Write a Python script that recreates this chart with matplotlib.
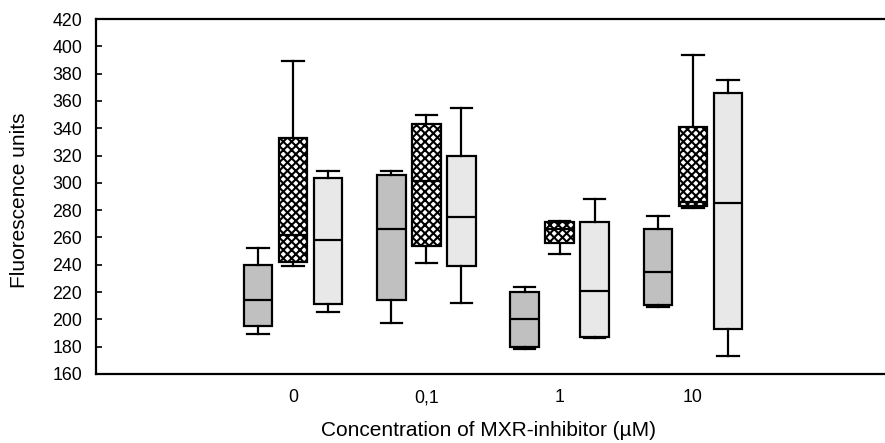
import matplotlib
matplotlib.use("Agg")
import matplotlib.pyplot as plt

plt.rcParams['font.family'] = ['Liberation Sans', 'DejaVu Sans']
plt.rcParams['hatch.linewidth'] = 1.5

# ---- data ----
groups = ["0", "0,1", "1", "10"]

a_whislo = [189, 197, 178, 209]
a_q1 = [195, 214, 180, 210.5]
a_med = [214, 266, 200, 234.5]
a_q3 = [240, 306, 220, 266]
a_whishi = [252, 309, 224, 276]

b_whislo = [239, 241, 248, 281.5]
b_q1 = [242, 254, 256, 283]
b_med = [262, 301, 266, 286]
b_q3 = [333, 343, 271, 341]
b_whishi = [389, 350, 272, 393.5]

c_whislo = [205, 212, 186, 173]
c_q1 = [211, 239, 187, 193]
c_med = [258, 275, 221, 285.5]
c_q3 = [303.5, 320, 271, 366]
c_whishi = [309, 355, 288, 375]

yticks = list(range(160, 421, 20))

series = [
    (a_whislo, a_q1, a_med, a_q3, a_whishi),
    (b_whislo, b_q1, b_med, b_q3, b_whishi),
    (c_whislo, c_q1, c_med, c_q3, c_whishi),
]
offsets = [-0.263, 0.0, 0.263]
styles = [
    dict(facecolor='#c0c0c0', hatch=None),
    dict(facecolor='white', hatch='xxxx'),
    dict(facecolor='#e8e8e8', hatch=None),
]

fig = plt.figure(figsize=(8.85, 4.43), dpi=100)
ax = fig.add_axes([0.1085, 0.156, 0.8915, 0.801])

base = list(range(1, len(groups) + 1))
for s, off, st in zip(series, offsets, styles):
    lo, q1, med, q3, hi = s
    stats = [dict(whislo=lo[i], q1=q1[i], med=med[i], q3=q3[i], whishi=hi[i], fliers=[])
             for i in range(len(groups))]
    pos = [b + off for b in base]
    bp = ax.bxp(stats, positions=pos, widths=0.215, capwidths=0.16, patch_artist=True,
                showfliers=False,
                boxprops=dict(linewidth=1.6, edgecolor='black', facecolor=st['facecolor']),
                medianprops=dict(color='black', linewidth=1.6),
                whiskerprops=dict(color='black', linewidth=1.6),
                capprops=dict(color='black', linewidth=1.6),
                manage_ticks=False)
    for p in bp['boxes']:
        if st['hatch']:
            p.set_hatch(st['hatch'])

ax.set_xlim(-0.477, 5.44)
ax.set_ylim(160, 420)
ax.set_yticks(yticks)
ax.set_xticks(base)
ax.set_xticklabels(groups)
ax.tick_params(axis='y', direction='in', length=4, width=1.2, labelsize=12.8, pad=10)
ax.tick_params(axis='x', length=0, labelsize=12.8, pad=11)
ax.spines['right'].set_visible(False)
for sp in ['left', 'top', 'bottom']:
    ax.spines[sp].set_linewidth(1.6)

fig.text(20 / 885, 1 - 200 / 443, "Fluorescence units", rotation=90,
         ha='center', va='center', fontsize=15)
fig.text(489 / 885, 1 - 430 / 443, "Concentration of MXR-inhibitor (µM)",
         ha='center', va='center', fontsize=15)

fig.savefig("out.png", dpi=100)
